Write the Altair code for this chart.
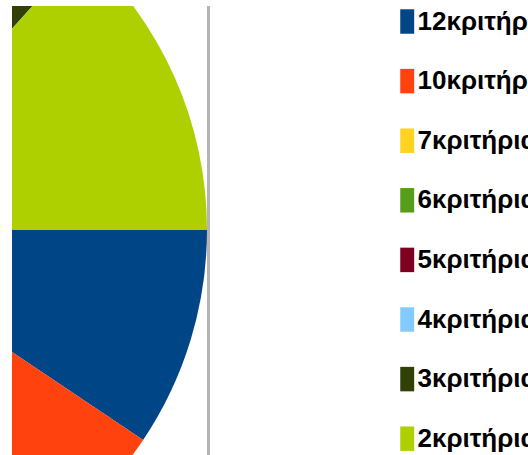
import math
import altair as alt
import pandas as pd

# Data (hidden slices estimated)
categories = ["12κριτήρια", "10κριτήρια", "7κριτήρια", "6κριτήρια",
              "5κριτήρια", "4κριτήρια", "3κριτήρια", "2κριτήρια"]
shares = [9.4, 16.0, 20.0, 14.0, 12.0, 8.0, 7.3, 13.3]
colors = ["#004586", "#ff420e", "#ffd320", "#579d1c",
          "#7e0021", "#83caff", "#314004", "#aecf00"]

df = pd.DataFrame({"cat": categories, "share": shares, "idx": list(range(len(categories)))})

W, H = 195, 449
CX, CY, R = -182, 224, 377

pie = alt.Chart(df).mark_arc(radius=R, clip=True).encode(
    theta=alt.Theta("share:Q", stack=True,
                    scale=alt.Scale(range=[math.pi / 2, math.pi / 2 + 2 * math.pi])),
    color=alt.Color("cat:N", title=None,
                    scale=alt.Scale(domain=categories, range=colors),
                    legend=alt.Legend(orient="none", legendX=379.5, legendY=2.5,
                                      symbolType="M-0.5,-1.44H1.14V1.44H-0.5Z",
                                      symbolSize=289, symbolStrokeWidth=0,
                                      symbolOpacity=1,
                                      labelFont="Liberation Sans", labelFontSize=26,
                                      labelFontWeight="bold",
                                      labelColor="#000000", labelLimit=500,
                                      labelOffset=0, rowPadding=33.6, padding=0)),
    order=alt.Order("idx:Q"),
    x=alt.value(CX),
    y=alt.value(CY),
)

rule = alt.Chart(pd.DataFrame({"a": [0]})).mark_rule(color="#b4b4b4", strokeWidth=3).encode(
    x=alt.value(196.5), y=alt.value(0), y2=alt.value(H)
)

chart = alt.layer(pie, rule).properties(
    width=W, height=H,
    autosize=alt.AutoSizeParams(type="none"),
    padding={"left": 12, "top": 6, "right": 321, "bottom": 0},
).configure_view(strokeWidth=0)

chart.save("out.html", embed_options={"renderer": "svg", "actions": False})
